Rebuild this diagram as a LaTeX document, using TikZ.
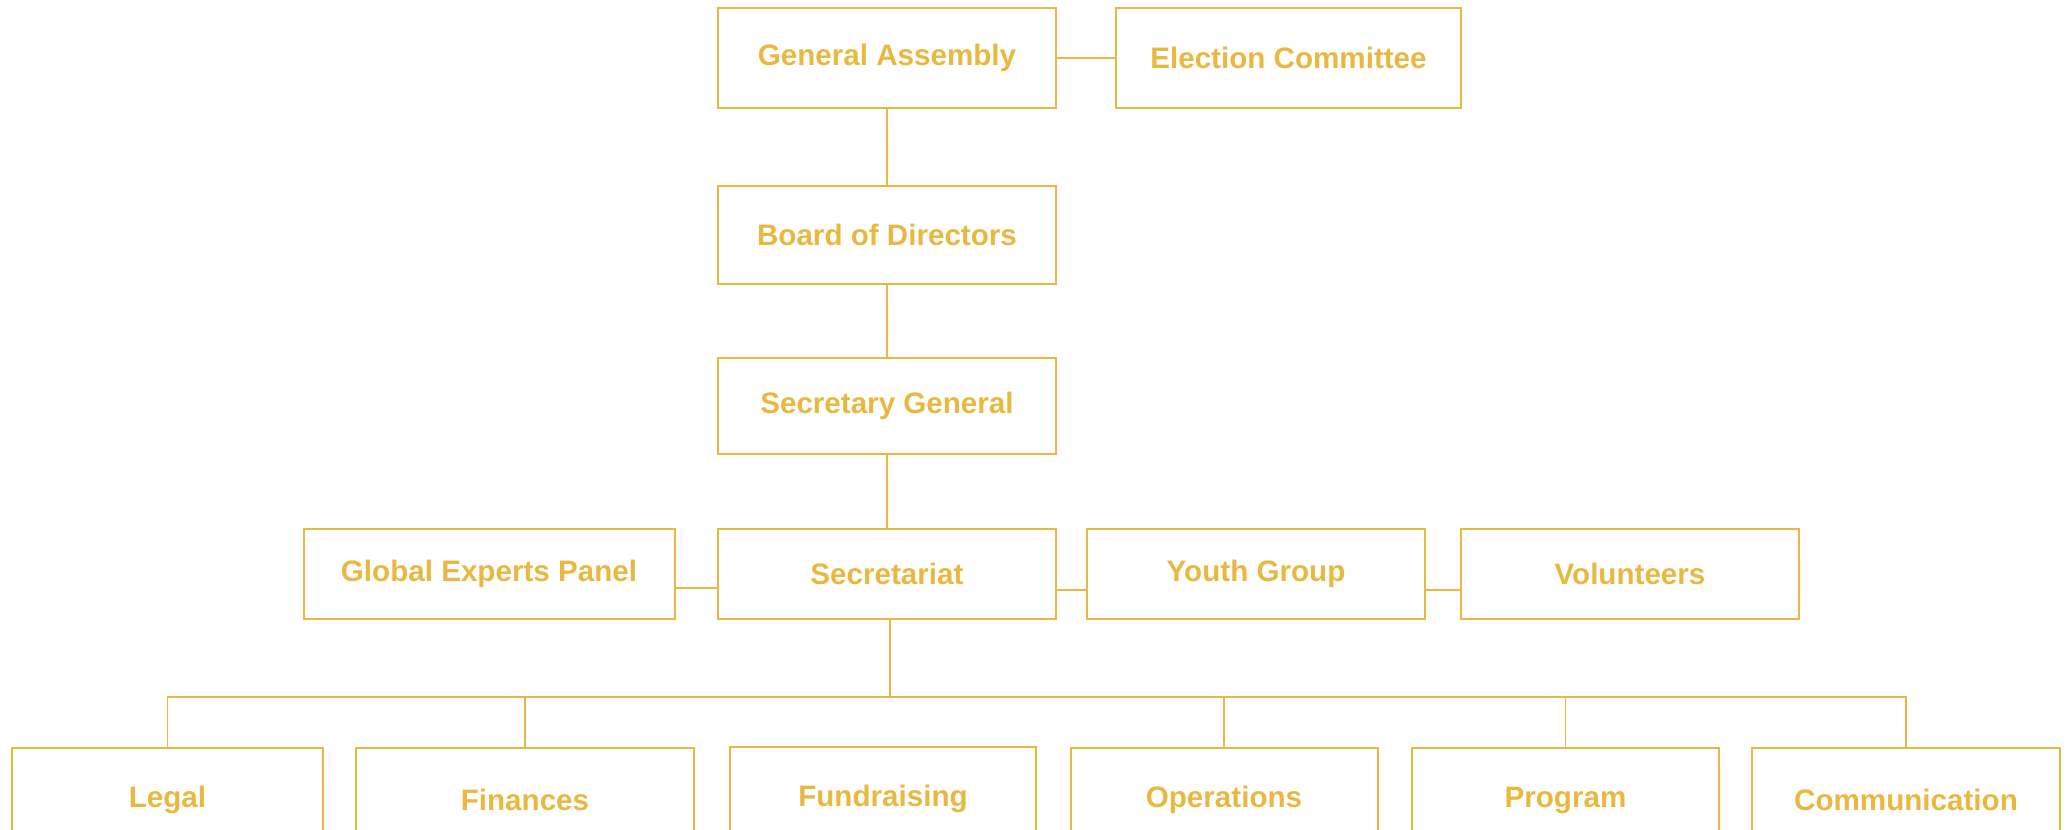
\documentclass[tikz,border=0pt]{standalone}
\usepackage{fontspec}
\setmainfont{Liberation Sans}
\usepackage{tikz}
\usetikzlibrary{calc}
\definecolor{ggoldd}{RGB}{233,184,65}
\tikzstyle{every node}=[font=\fontsize{14.8}{17}\selectfont\bfseries]

\begin{document}
\begin{tikzpicture}[line cap=rect,line join=miter,x=0.5pt,y=0.5pt]
            \clip (0,0) rectangle (2069,830);
            \tikzstyle{box}=[draw=ggoldd,line width=1pt,text=ggoldd,inner sep=0pt]
            \tikzstyle{conn}=[draw=ggoldd,line width=0.9pt]
            \node[box,minimum width=169pt,minimum height=50pt] (ga) at (887,772) {General Assembly};
            \node[box,minimum width=172.5pt,minimum height=50pt] (ec) at (1288.5,772) {Election Committee};
            \node[box,minimum width=169pt,minimum height=49pt] (bod) at (887,595) {Board of Directors};
            \node[box,minimum width=169pt,minimum height=48pt] (sg) at (887,424) {Secretary General};
            \node[box,minimum width=185.5pt,minimum height=45pt] (gep) at (489,256) {Global Experts Panel};
            \node[box,minimum width=169pt,minimum height=45pt] (sec) at (887,256) {Secretariat};
            \node[box,minimum width=169pt,minimum height=45pt] (yg) at (1256,256) {Youth Group};
            \node[box,minimum width=169pt,minimum height=45pt] (vol) at (1630,256) {Volunteers};
            \node[box,minimum width=155.5pt,minimum height=52pt] (legal) at (167.5,30) {Legal};
            \node[box,minimum width=169pt,minimum height=52pt] (fin) at (525,30) {Finances};
            \node[box,minimum width=153pt,minimum height=52pt] (fund) at (883,31) {Fundraising};
            \node[box,minimum width=153.5pt,minimum height=52pt] (ops) at (1224,30) {Operations};
            \node[box,minimum width=153.5pt,minimum height=52pt] (prog) at (1565.5,30) {Program};
            \node[box,minimum width=154pt,minimum height=52pt] (comm) at (1906,30) {Communication};
            \draw[conn] (ga.east) -- (ec.west);
            \draw[conn] (ga.south) -- (bod.north);
            \draw[conn] (bod.south) -- (sg.north);
            \draw[conn] (sg.south) -- (sec.north);
            \draw[conn] ([yshift=-7pt]gep.east) -- ([yshift=-7pt]sec.west);
            \draw[conn] ([yshift=-8pt]sec.east) -- ([yshift=-8pt]yg.west);
            \draw[conn] ([yshift=-8pt]yg.east) -- ([yshift=-8pt]vol.west);
            \coordinate (bus) at (890,133);
            \draw[conn] (sec.south -| bus) -- (bus);
            \draw[conn] (legal.north |- bus) -- (comm.north |- bus);
            \foreach \n in {legal,fin,ops,prog,comm}
                \draw[conn] (\n.north |- bus) -- (\n.north);
            \end{tikzpicture}
\end{document}
